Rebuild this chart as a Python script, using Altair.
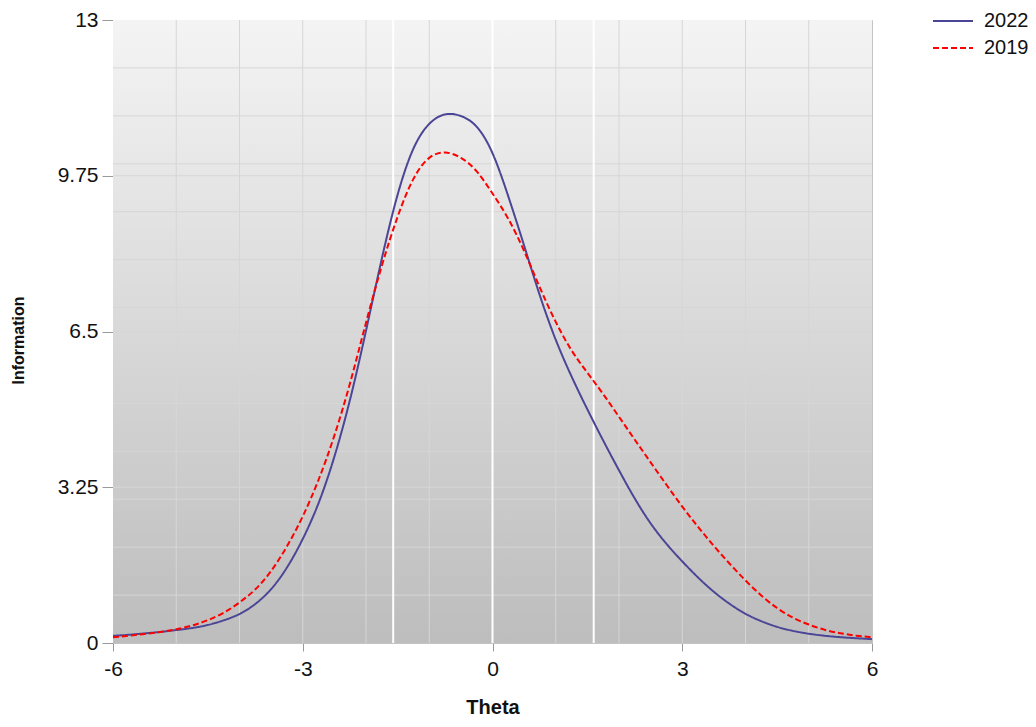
import altair as alt
import pandas as pd

theta = [-6.0, -5.75, -5.5, -5.25, -5.0, -4.75, -4.5, -4.25, -4.0, -3.75, -3.5, -3.25,
         -3.0, -2.75, -2.5, -2.25, -2.0, -1.75, -1.5, -1.25, -1.0, -0.75, -0.5, -0.25,
         0.0, 0.25, 0.5, 0.75, 1.0, 1.25, 1.5, 1.75, 2.0, 2.25, 2.5, 2.75,
         3.0, 3.25, 3.5, 3.75, 4.0, 4.25, 4.5, 4.75, 5.0, 5.25, 5.5, 5.75, 6.0]

info_2022 = [0.15, 0.17, 0.20, 0.23, 0.27, 0.31, 0.37, 0.47, 0.59, 0.80, 1.10, 1.55,
             2.15, 2.88, 3.85, 5.05, 6.50, 8.05, 9.42, 10.40, 10.88, 11.07, 11.02, 10.83,
             10.29, 9.33, 8.30, 7.22, 6.30, 5.55, 4.87, 4.22, 3.60, 3.00, 2.48, 2.06,
             1.70, 1.36, 1.06, 0.81, 0.60, 0.45, 0.33, 0.25, 0.19, 0.15, 0.12, 0.10, 0.08]

info_2019 = [0.12, 0.15, 0.19, 0.23, 0.28, 0.36, 0.47, 0.62, 0.84, 1.10, 1.48, 2.00,
             2.62, 3.38, 4.30, 5.40, 6.70, 7.90, 8.93, 9.75, 10.18, 10.27, 10.15, 9.88,
             9.38, 8.88, 8.20, 7.40, 6.68, 6.08, 5.64, 5.20, 4.72, 4.24, 3.77, 3.30,
             2.84, 2.42, 2.02, 1.65, 1.30, 0.98, 0.72, 0.52, 0.38, 0.27, 0.20, 0.15, 0.12]

series_names = ["2022", "2019"]
series_colors = ["#4b4596", "#ff0000"]

x_ticks = [-6, -3, 0, 3, 6]
y_ticks = [0, 3.25, 6.5, 9.75, 13]
x_grid = [-5, -4, -3, -2, -1, 1, 2, 3, 4, 5]
y_grid = [1, 2, 3, 3.25, 4, 5, 6, 6.5, 7, 8, 9, 9.75, 10, 11, 12]
white_lines = [-1.57, 0, 1.6]

rows = []
for t, v in zip(theta, info_2022):
    rows.append({"theta": t, "info": v, "series": "2022"})
for t, v in zip(theta, info_2019):
    rows.append({"theta": t, "info": v, "series": "2019"})
df = pd.DataFrame(rows)

x_scale = alt.Scale(domain=[-6, 6], nice=False, zero=False)
y_scale = alt.Scale(domain=[0, 13], nice=False, zero=False)

x_axis = alt.Axis(values=x_ticks, grid=False, tickSize=8, labelPadding=7,
                  labelFontSize=21, titleFontSize=20, titlePadding=18,
                  labelExpr="'' + datum.value")
y_axis = alt.Axis(values=y_ticks, grid=False, tickSize=11, labelPadding=4,
                  labelFontSize=21, titleFontSize=16, titlePadding=31,
                  labelExpr="'' + datum.value", titleY=320)


def X(field):
    return alt.X(field, scale=x_scale, title="Theta", axis=x_axis)


def Y(field):
    return alt.Y(field, scale=y_scale, title="Information", axis=y_axis)


bg_df = pd.DataFrame({"x0": [-6], "x1": [6], "y0": [0], "y1": [13]})
bg = alt.Chart(bg_df).mark_rect(
    color=alt.LinearGradient(
        gradient="linear",
        stops=[alt.GradientStop(color="#f4f4f4", offset=0),
               alt.GradientStop(color="#bdbdbd", offset=1)],
        x1=0, x2=0, y1=0, y2=1),
).encode(x=X("x0:Q"), x2="x1:Q", y=Y("y0:Q"), y2="y1:Q")

vgrid = alt.Chart(pd.DataFrame({"g": x_grid})).mark_rule(color="#d6d6d6", strokeWidth=1).encode(
    x=X("g:Q"))
hgrid = alt.Chart(pd.DataFrame({"g": y_grid})).mark_rule(color="#d6d6d6", strokeWidth=1).encode(
    y=Y("g:Q"))
wlines = alt.Chart(pd.DataFrame({"g": white_lines})).mark_rule(color="#ffffff", strokeWidth=2).encode(
    x=X("g:Q"))

legend = alt.Legend(
    title=None, orient="none", legendX=829, legendY=-10,
    symbolType="M-2,0H2", symbolSize=400, symbolStrokeWidth=2,
    labelFontSize=20, labelFont="Liberation Sans", labelColor="#111111",
    labelOffset=20, rowPadding=6, padding=0,
)

lines = alt.Chart(df).mark_line(strokeWidth=2, interpolate="basis").encode(
    x=X("theta:Q"),
    y=Y("info:Q"),
    color=alt.Color("series:N", sort=series_names,
                    scale=alt.Scale(domain=series_names, range=series_colors), legend=legend),
    strokeDash=alt.StrokeDash("series:N", sort=series_names,
                              scale=alt.Scale(domain=series_names, range=[[1, 0], [6, 3]]),
                              legend=legend),
    detail="series:N",
)

chart = alt.layer(bg, vgrid, hgrid, wlines, lines).properties(
    width=759, height=623,
    autosize=alt.AutoSizeParams(type="none"),
    padding={"left": 105, "top": 12, "right": 156, "bottom": 76},
).configure_view(
    stroke="#c4c4c4", strokeWidth=1,
).configure_axis(
    labelFont="Liberation Sans", titleFont="Liberation Sans", labelColor="#111111",
    titleColor="#111111", titleFontWeight="bold", domainColor="#c4c4c4",
    tickColor="#999999", labelFlush=False, labelOverlap=False,
)

chart.save("out.html", embed_options={"renderer": "svg", "actions": False})
